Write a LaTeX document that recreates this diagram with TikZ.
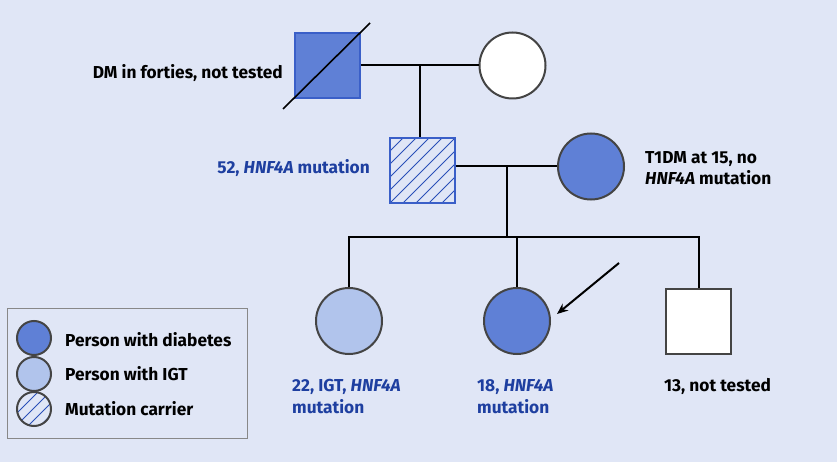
\documentclass[tikz,border=0pt]{standalone}
\usepackage{fontspec}
\setmainfont{Fira Sans}
\usetikzlibrary{arrows.meta}
\definecolor{bg}{HTML}{E0E6F6}
\definecolor{dm}{HTML}{5F80D6}
\definecolor{igt}{HTML}{B1C4EC}
\definecolor{blueedge}{HTML}{3A5FC8}
\definecolor{outl}{HTML}{444444}
\definecolor{lbl}{HTML}{1E3FA0}
\definecolor{hatchc}{HTML}{2A4FB8}
\definecolor{legedge}{HTML}{888888}
\tikzset{
 person/.style={circle, draw=outl, line width=2pt, minimum size=66pt, inner sep=0pt},
 male/.style={rectangle, draw=outl, line width=2pt, minimum size=65pt, inner sep=0pt},
 legperson/.style={circle, draw=outl, line width=2pt, minimum size=34pt, inner sep=0pt},
 link/.style={line width=2pt, black},
 hatchline/.style={hatchc, line width=0.8pt},
 txt/.style={font=\bfseries\fontsize{17.3}{21.5}\selectfont, inner sep=0pt, align=left},
 bluetxt/.style={txt, text=lbl},
}
\begin{document}
\begin{tikzpicture}[x=1pt,y=-1pt]
\fill[bg] (0,0) rectangle (837,462);
% generation I
\node[male, fill=dm, draw=blueedge] (f) at (327.5,65.5) {};
\node[person, fill=white] (m) at (512.5,65.5) {};
\coordinate (dA) at (283,109);
\coordinate (dB) at (370,23);
\draw[link, line width=1.6pt] (dA) -- (dB);
\node[txt, anchor=east] (flab) at (283,73) {DM in forties, not tested};
% generation II
\begin{scope}
\clip (390,138) rectangle (455,203);
\foreach \i in {0,...,10} \draw[hatchline] (325+\i*13,203) -- ++(70,-70);
\end{scope}
\node[male, draw=blueedge] (s) at (422.5,170.5) {};
\node[person, fill=dm] (w) at (591,166.5) {};
\node[bluetxt, anchor=east] (slab) at (370,168) {52, \textit{HNF4A} mutation};
\node[txt, anchor=west] (wlab) at (645,168) {T1DM at 15, no\\\textit{HNF4A} mutation};
% marriage I
\draw[link] (f.east) -- (m.west);
\coordinate (mid1) at (420,65.5);
\draw[link] (mid1) -- (mid1 |- s.north);
% marriage II
\draw[link] (s.east |- w.west) -- (w.west);
\coordinate (mid2) at (507,166.5);
\coordinate (sib) at (507,237);
\draw[link] (mid2) -- (sib);
% generation III
\node[person, fill=igt] (c1) at (349,321) {};
\node[person, fill=dm] (c2) at (517,321) {};
\node[male, fill=white] (c3) at (698.5,321) {};
\draw[link] (c1.north) -- (c1.north |- sib) -- (c3.north |- sib) -- (c3.north);
\draw[link] (c2.north |- sib) -- (c2.north);
\node[bluetxt, anchor=west] (c1lab) at (292,396.5) {22, IGT, \textit{HNF4A}\\mutation};
\node[bluetxt, anchor=west] (c2lab) at (477,396.5) {18, \textit{HNF4A}\\mutation};
\node[txt, anchor=west] (c3lab) at (664,386) {13, not tested};
% proband arrow
\coordinate (arrS) at (619,263);
\coordinate (arrT) at (557,314);
\draw[link, -{Stealth[length=11pt,width=9pt]}] (arrS) -- (arrT);
% legend
\draw[legedge, line width=1pt, fill=bg] (7,308) rectangle (247,438);
\node[legperson, fill=dm] (l1) at (34,338) {};
\node[legperson, fill=igt] (l2) at (34,374) {};
\begin{scope}
\clip (34,409) circle (17);
\foreach \i in {0,...,4} \draw[hatchline] (0+\i*12,430) -- ++(40,-40);
\end{scope}
\node[legperson] (l3) at (34,409) {};
\node[txt, anchor=west] (l1lab) at (65,340) {Person with diabetes};
\node[txt, anchor=west] (l2lab) at (65,374) {Person with IGT};
\node[txt, anchor=west] (l3lab) at (65,409) {Mutation carrier};
\end{tikzpicture}
\end{document}
